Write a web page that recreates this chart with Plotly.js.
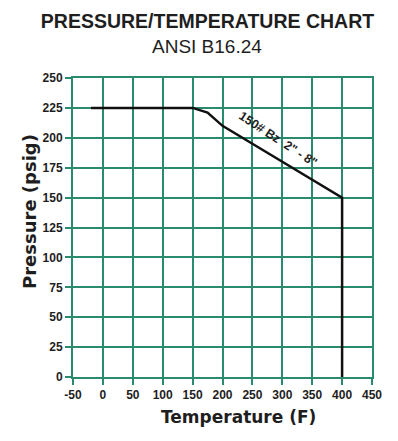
<!DOCTYPE html>
<html>
<head>
<meta charset="utf-8">
<script src="https://cdn.plot.ly/plotly-3.0.1.min.js"></script>
<style>html,body{margin:0;padding:0;background:#fff;}#chart{width:398px;height:441px;}</style>
</head>
<body>
<div id="chart"></div>
<script>
// Data
const temperatureF = [-20, 150, 175, 200, 250, 300, 350, 400, 400];
const pressurePsig = [225, 225, 221, 210, 195, 180, 165, 150, 0];
const xTicks = [-50, 0, 50, 100, 150, 200, 250, 300, 350, 400, 450];
const yTicks = [0, 25, 50, 75, 100, 125, 150, 175, 200, 225, 250];
const seriesLabel = '150#&nbsp;Bz&nbsp;&nbsp;2"&nbsp;-&nbsp;8"';
const labelPos = {x: 292, y: 199};

const teal = '#2a8a6e';
const ink = '#1e1e1e';

const trace = {
  x: temperatureF, y: pressurePsig, type: 'scatter', mode: 'lines',
  line: {color: '#111', width: 2.5}, hoverinfo: 'skip'
};

const axisCommon = {
  showgrid: true, gridcolor: teal, gridwidth: 2,
  showline: true, linecolor: teal, linewidth: 2, mirror: true,
  ticks: 'outside', ticklen: 6, tickcolor: teal, tickwidth: 2,
  zeroline: false,
  tickfont: {family: 'Liberation Sans, Arial, sans-serif', size: 12, color: ink, weight: 'bold'}
};

const layout = {
  width: 398, height: 441,
  margin: {l: 73, r: 26, t: 78, b: 64},
  paper_bgcolor: '#fff', plot_bgcolor: '#fff',
  showlegend: false,
  title: {
    text: '<b>PRESSURE/TEMPERATURE CHART</b>',
    xref: 'container', yref: 'container', x: 207.5/398, y: 1 - 21/441,
    xanchor: 'center', yanchor: 'middle',
    font: {family: 'Liberation Sans, Arial, sans-serif', size: 19.5, color: ink}
  },
  xaxis: Object.assign({}, axisCommon, {
    range: [-50, 450], tickmode: 'array', tickvals: xTicks, ticktext: xTicks.map(String)
  }),
  yaxis: Object.assign({}, axisCommon, {
    range: [0, 250], tickmode: 'array', tickvals: yTicks, ticktext: yTicks.map(String)
  }),
  annotations: [
    {text: 'ANSI B16.24', xref: 'paper', yref: 'paper', x: (206.5-73)/299, y: (377-46)/299,
     showarrow: false, xanchor: 'center', yanchor: 'middle',
     font: {family: 'Liberation Sans, Arial, sans-serif', size: 19, color: ink}},
    {text: '<b>Temperature (F)</b>', xref: 'paper', yref: 'paper', x: (238-73)/299, y: (377-417)/299,
     showarrow: false, xanchor: 'center', yanchor: 'middle',
     font: {family: 'DejaVu Sans, sans-serif', size: 17, color: ink}},
    {text: '<b>Pressure (psig)</b>', xref: 'paper', yref: 'paper', x: (29-73)/299, y: (377-211)/299,
     showarrow: false, xanchor: 'center', yanchor: 'middle', textangle: -90,
     font: {family: 'DejaVu Sans, sans-serif', size: 18, color: ink}},
    {text: '<b>' + seriesLabel + '</b>', xref: 'x', yref: 'y', x: labelPos.x, y: labelPos.y,
     showarrow: false, xanchor: 'center', yanchor: 'middle', textangle: 33,
     font: {family: 'Liberation Sans, Arial, sans-serif', size: 12.5, color: ink}}
  ]
};

Plotly.newPlot('chart', [trace], layout, {displayModeBar: false, staticPlot: true});
</script>
</body>
</html>
